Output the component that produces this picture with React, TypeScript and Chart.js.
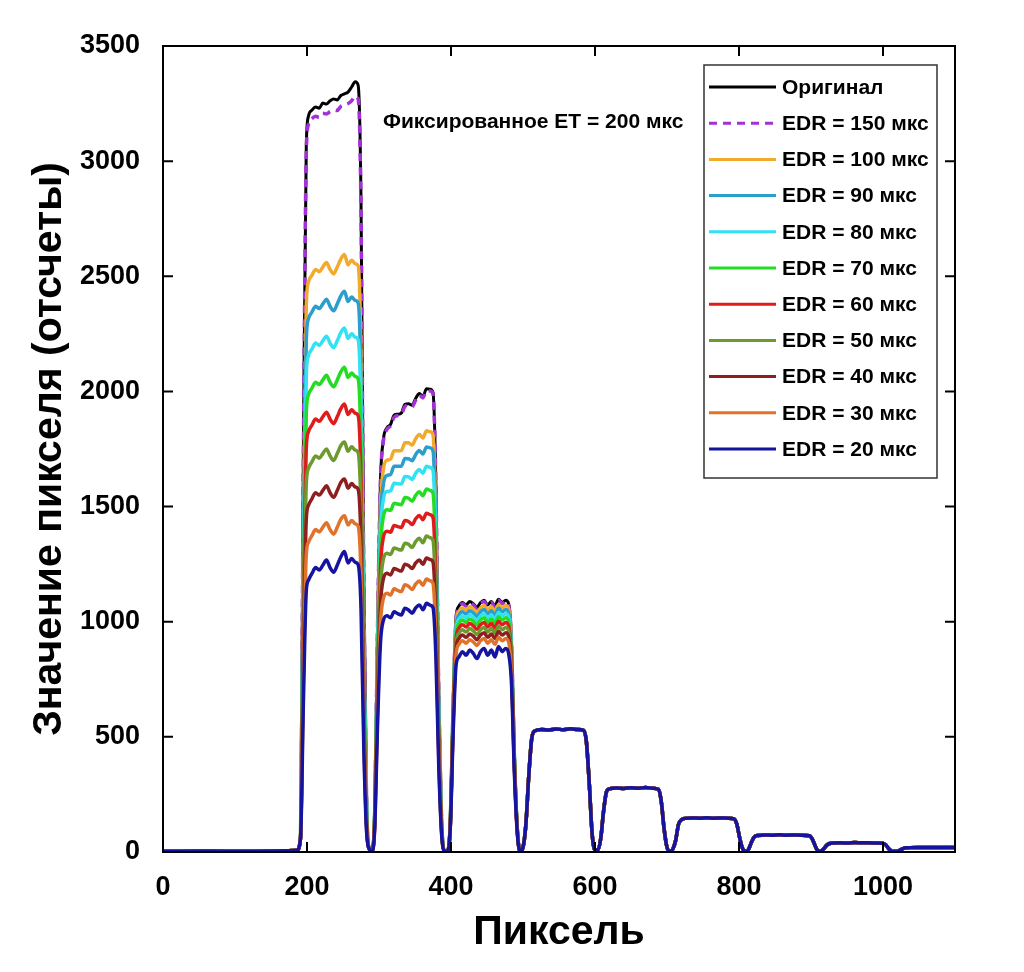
import React, { useEffect, useRef } from 'react';
import { Chart, registerables } from 'chart.js';

Chart.register(...registerables);

const FONT = '"Liberation Sans", Arial, sans-serif';

// pixel positions (x) shared by every trace
const headX = [0, 60, 120, 170, 186, 191, 195, 199,
  202, 207, 212, 217, 222, 227, 232, 237, 242, 247, 252, 257, 262, 267, 271,
  275, 279, 283, 287, 290, 294, 298, 302,
  306, 311, 316, 321, 326, 331, 336, 341, 346, 351, 356, 361, 366, 371, 375,
  379, 383, 387, 391, 395, 399, 403, 407,
  411, 416, 421, 426, 431, 436, 441, 446, 451, 456, 461, 466, 471, 476, 480,
  484, 488, 492];
const tailX = [496, 500, 504, 508, 512, 516, 526, 536, 546, 556, 566, 576, 584,
  588, 592, 596, 600, 604, 608, 612, 616, 620, 630, 640, 650, 660, 670, 680, 688,
  692, 696, 700, 704, 708, 712, 716, 720, 725, 735, 745, 755, 765, 775, 785, 793,
  797, 801, 805, 809, 813, 817, 821, 826, 836, 846, 856, 866, 876, 886, 898,
  902, 906, 910, 914, 918, 922, 926, 931, 941, 951, 961, 971, 981, 991, 1000,
  1004, 1008, 1012, 1016, 1020, 1024, 1028, 1032, 1037, 1050, 1065, 1080, 1100];

// small steps (x >= 496): all traces coincide
const tailCounts = [2, 20, 120, 330, 490, 525, 532, 530, 534, 531, 535, 532, 528,
  480, 300, 80, 8, 10, 60, 180, 262, 274, 278, 276, 279, 277, 280, 277, 272,
  220, 100, 20, 3, 12, 50, 120, 140, 146, 148, 147, 149, 147, 148, 147, 144,
  120, 60, 15, 3, 10, 40, 65, 72, 74, 73, 75, 73, 74, 73, 71,
  55, 25, 4, 5, 15, 30, 37, 39, 40, 39, 41, 40, 40, 39, 38,
  30, 14, 4, 3, 4, 9, 15, 18, 19, 20, 19, 20, 19];

const original = [3, 4, 3, 5, 8, 60, 1757, 3067,
  3195, 3222, 3235, 3230, 3252, 3248, 3262, 3270, 3266, 3285, 3292, 3300, 3322, 3345, 3330,
  2830, 1165, 200, 10, 3, 179, 985, 1611,
  1790, 1842, 1856, 1897, 1901, 1906, 1944, 1946, 1940, 1970, 1991, 1978, 2012, 2010, 1996,
  1597, 699, 140, 5, 3, 130, 651, 1020,
  1068, 1083, 1073, 1088, 1078, 1063, 1083, 1093, 1073, 1088, 1068, 1098, 1083, 1093, 1078,
  916, 431, 108];
const edr150 = [3, 4, 3, 5, 8, 60, 1738, 3034,
  3160, 3185, 3195, 3190, 3208, 3205, 3215, 3222, 3220, 3238, 3245, 3250, 3262, 3282, 3270,
  2780, 1145, 196, 10, 3, 178, 980, 1604,
  1782, 1835, 1850, 1888, 1895, 1900, 1935, 1940, 1934, 1962, 1983, 1972, 2003, 2002, 1990,
  1592, 697, 139, 5, 3, 129, 644, 1009,
  1063, 1078, 1068, 1083, 1073, 1058, 1078, 1088, 1068, 1083, 1063, 1093, 1078, 1088, 1073,
  912, 429, 107];
const edr100 = [3, 4, 3, 5, 8, 60, 1361, 2376,
  2475, 2505, 2530, 2520, 2540, 2560, 2530, 2510, 2540, 2575, 2595, 2550, 2570, 2555, 2545,
  2163, 891, 153, 10, 3, 166, 913, 1494,
  1660, 1701, 1706, 1742, 1742, 1743, 1777, 1777, 1767, 1795, 1813, 1798, 1829, 1825, 1812,
  1450, 634, 127, 5, 3, 127, 633, 992,
  1045, 1060, 1050, 1065, 1055, 1040, 1060, 1070, 1050, 1065, 1045, 1075, 1060, 1070, 1055,
  897, 422, 106];
const edr90 = [3, 4, 3, 5, 8, 60, 1273, 2222,
  2315, 2345, 2370, 2360, 2380, 2400, 2370, 2350, 2380, 2415, 2435, 2390, 2410, 2395, 2385,
  2027, 835, 143, 10, 3, 160, 877, 1436,
  1595, 1635, 1639, 1675, 1675, 1675, 1709, 1708, 1699, 1726, 1744, 1728, 1759, 1755, 1742,
  1394, 610, 122, 5, 3, 125, 623, 976,
  1028, 1043, 1033, 1048, 1038, 1023, 1043, 1053, 1033, 1048, 1028, 1058, 1043, 1053, 1038,
  882, 415, 104];
const edr80 = [3, 4, 3, 5, 8, 60, 1185, 2069,
  2155, 2185, 2210, 2200, 2220, 2240, 2210, 2190, 2220, 2255, 2275, 2230, 2250, 2235, 2225,
  1891, 779, 134, 10, 3, 153, 842, 1377,
  1530, 1566, 1568, 1601, 1599, 1598, 1631, 1629, 1618, 1645, 1661, 1645, 1675, 1670, 1657,
  1326, 580, 116, 5, 3, 122, 612, 959,
  1010, 1025, 1015, 1030, 1020, 1005, 1025, 1035, 1015, 1030, 1010, 1040, 1025, 1035, 1020,
  867, 408, 102];
const edr70 = [3, 4, 3, 5, 8, 60, 1092, 1906,
  1985, 2015, 2040, 2030, 2050, 2070, 2040, 2020, 2050, 2085, 2105, 2060, 2080, 2065, 2055,
  1747, 719, 123, 10, 3, 146, 800, 1310,
  1455, 1486, 1484, 1514, 1511, 1508, 1539, 1536, 1524, 1549, 1564, 1547, 1576, 1570, 1558,
  1246, 545, 109, 5, 3, 120, 601, 942,
  992, 1007, 997, 1012, 1002, 987, 1007, 1017, 997, 1012, 992, 1022, 1007, 1017, 1002,
  852, 401, 100];
const edr60 = [3, 4, 3, 5, 8, 60, 1004, 1752,
  1825, 1855, 1880, 1870, 1890, 1910, 1880, 1860, 1890, 1925, 1945, 1900, 1920, 1905, 1895,
  1611, 663, 114, 10, 3, 137, 751, 1229,
  1365, 1393, 1389, 1418, 1413, 1409, 1439, 1435, 1422, 1447, 1461, 1443, 1471, 1465, 1453,
  1162, 509, 102, 5, 3, 118, 589, 923,
  972, 987, 977, 992, 982, 967, 987, 997, 977, 992, 972, 1002, 987, 997, 982,
  835, 393, 98];
const edr50 = [3, 4, 3, 5, 8, 60, 916, 1598,
  1665, 1695, 1720, 1710, 1730, 1750, 1720, 1700, 1730, 1765, 1780, 1740, 1760, 1745, 1735,
  1475, 607, 104, 10, 3, 127, 699, 1143,
  1270, 1297, 1292, 1320, 1315, 1311, 1341, 1336, 1323, 1348, 1362, 1343, 1372, 1365, 1353,
  1082, 474, 95, 5, 3, 115, 576, 902,
  950, 965, 955, 970, 960, 945, 965, 975, 955, 970, 950, 980, 965, 975, 960,
  816, 384, 96];
const edr40 = [3, 4, 3, 5, 8, 60, 828, 1445,
  1505, 1535, 1560, 1550, 1570, 1590, 1560, 1540, 1570, 1605, 1620, 1580, 1600, 1585, 1575,
  1339, 551, 95, 10, 3, 119, 652, 1067,
  1185, 1210, 1203, 1231, 1225, 1220, 1250, 1244, 1231, 1255, 1268, 1249, 1277, 1270, 1259,
  1007, 441, 88, 5, 3, 112, 562, 881,
  927, 942, 932, 947, 937, 922, 942, 952, 932, 947, 927, 957, 942, 952, 937,
  796, 375, 94];
const edr30 = [3, 4, 3, 5, 8, 60, 740, 1291,
  1345, 1375, 1400, 1390, 1410, 1430, 1400, 1380, 1410, 1445, 1460, 1420, 1440, 1425, 1415,
  1203, 495, 85, 10, 3, 110, 605, 990,
  1100, 1124, 1116, 1143, 1136, 1131, 1160, 1154, 1140, 1164, 1177, 1158, 1185, 1178, 1167,
  934, 408, 82, 5, 3, 109, 547, 857,
  902, 917, 907, 922, 912, 897, 917, 927, 907, 922, 902, 932, 917, 927, 912,
  775, 365, 91];
const edr20 = [3, 4, 3, 5, 8, 60, 649, 1133,
  1180, 1210, 1235, 1225, 1245, 1268, 1235, 1215, 1245, 1282, 1305, 1255, 1275, 1258, 1248,
  1061, 437, 75, 10, 3, 100, 553, 905,
  1005, 1026, 1017, 1043, 1035, 1029, 1058, 1051, 1037, 1060, 1073, 1052, 1080, 1072, 1061,
  849, 371, 74, 5, 3, 103, 517, 810,
  847, 870, 854, 877, 862, 840, 870, 884, 854, 877, 847, 892, 870, 884, 862,
  733, 345, 86];

const seriesLabels = ['Оригинал', 'EDR = 150 мкс', 'EDR = 100 мкс', 'EDR = 90 мкс', 'EDR = 80 мкс',
  'EDR = 70 мкс', 'EDR = 60 мкс', 'EDR = 50 мкс', 'EDR = 40 мкс', 'EDR = 30 мкс', 'EDR = 20 мкс'];
const seriesHeads = [original, edr150, edr100, edr90, edr80, edr70, edr60, edr50, edr40, edr30, edr20];
const seriesColors = ['#000000', '#a332d6', '#f2aa2c', '#2b9fcb', '#33e2f2', '#22dd22',
  '#e01b1b', '#6b9a2e', '#8e1f1f', '#e0722a', '#1414a0'];

const pixelX = [...headX, ...tailX];

const framePlugin = {
  id: 'frame',
  afterDatasetsDraw(chart: Chart) {
    const { ctx, chartArea, scales } = chart;
    const { left, right, top, bottom } = chartArea;
    ctx.save();
    ctx.strokeStyle = '#000';
    ctx.lineWidth = 2;
    ctx.strokeRect(left, top, right - left, bottom - top);
    ctx.beginPath();
    scales.x.ticks.forEach((t) => {
      const px = scales.x.getPixelForValue(t.value);
      ctx.moveTo(px, bottom);
      ctx.lineTo(px, bottom - 10);
      ctx.moveTo(px, top);
      ctx.lineTo(px, top + 10);
    });
    scales.y.ticks.forEach((t) => {
      const py = scales.y.getPixelForValue(t.value);
      ctx.moveTo(left, py);
      ctx.lineTo(left + 10, py);
      ctx.moveTo(right, py);
      ctx.lineTo(right - 10, py);
    });
    ctx.stroke();
    ctx.restore();
  },
};

const legendPlugin = {
  id: 'boxLegend',
  afterDraw(chart: Chart) {
    const { ctx } = chart;
    ctx.save();
    // note text
    ctx.fillStyle = '#000';
    ctx.font = `bold 21px ${FONT}`;
    ctx.textBaseline = 'middle';
    ctx.textAlign = 'left';
    ctx.fillText('Фиксированное ET = 200 мкс', 383, 122);

    // legend box
    ctx.fillStyle = '#fff';
    ctx.fillRect(704, 65, 233, 413);
    ctx.strokeStyle = '#333';
    ctx.lineWidth = 1.5;
    ctx.strokeRect(704, 65, 233, 413);
    seriesLabels.forEach((label, i) => {
      const y = 87 + i * 36.2;
      ctx.beginPath();
      ctx.strokeStyle = seriesColors[i];
      ctx.lineWidth = 3;
      ctx.setLineDash(i === 1 ? [8, 6] : []);
      ctx.moveTo(709, y);
      ctx.lineTo(776, y);
      ctx.stroke();
      ctx.setLineDash([]);
      ctx.fillStyle = '#000';
      ctx.fillText(label, 782, y + 1);
    });
    ctx.restore();
  },
};

const App = () => {
  const chartRef = useRef<HTMLCanvasElement>(null);
  const chartInstance = useRef<Chart | null>(null);

  useEffect(() => {
    document.body.style.margin = '0';
    if (!chartRef.current) return;
    const ctx = chartRef.current.getContext('2d');
    if (!ctx) return;
    if (chartInstance.current) chartInstance.current.destroy();

    const datasets = seriesHeads.map((head, i) => {
      const values = [...head, ...tailCounts];
      return {
        label: seriesLabels[i],
        data: pixelX.map((x, j) => ({ x, y: values[j] })),
        borderColor: seriesColors[i],
        borderWidth: i === 0 ? 3 : 3.5,
        borderDash: i === 1 ? [8, 6] : [],
        pointRadius: 0,
        fill: false,
        cubicInterpolationMode: 'monotone' as const,
        order: seriesHeads.length - i,
      };
    });

    chartInstance.current = new Chart(ctx, {
      type: 'line',
      data: { datasets },
      plugins: [framePlugin, legendPlugin],
      options: {
        responsive: false,
        animation: false,
        layout: { padding: { left: 0, top: 46, right: 69, bottom: 0 } },
        plugins: {
          legend: { display: false },
          tooltip: { enabled: false },
        },
        scales: {
          x: {
            type: 'linear',
            min: 0,
            max: 1100,
            afterFit: (scale) => { scale.height = 120; },
            grid: { display: false },
            border: { display: false },
            ticks: {
              stepSize: 200,
              includeBounds: false,
              padding: 11,
              color: '#000',
              callback: (v) => String(v),
              font: { family: FONT, size: 27, weight: 'bold' },
            },
            title: {
              display: true,
              text: 'Пиксель',
              color: '#000',
              padding: { top: 0, bottom: 15 },
              font: { family: FONT, size: 41, weight: 'bold' },
            },
          },
          y: {
            min: 0,
            max: 3500,
            afterFit: (scale) => { scale.width = 163; },
            grid: { display: false },
            border: { display: false },
            ticks: {
              stepSize: 500,
              padding: 15,
              color: '#000',
              callback: (v) => String(v),
              font: { family: FONT, size: 27, weight: 'bold' },
            },
            title: {
              display: true,
              text: 'Значение пикселя (отсчеты)',
              color: '#000',
              padding: { top: 25, bottom: 0 },
              font: { family: FONT, size: 41, weight: 'bold' },
            },
          },
        },
      },
    });

    return () => {
      if (chartInstance.current) {
        chartInstance.current.destroy();
        chartInstance.current = null;
      }
    };
  }, []);

  return (
    <div style={{ width: 1024, height: 972, background: '#fff' }}>
      <canvas ref={chartRef} width={1024} height={972}></canvas>
    </div>
  );
};

export default App;
